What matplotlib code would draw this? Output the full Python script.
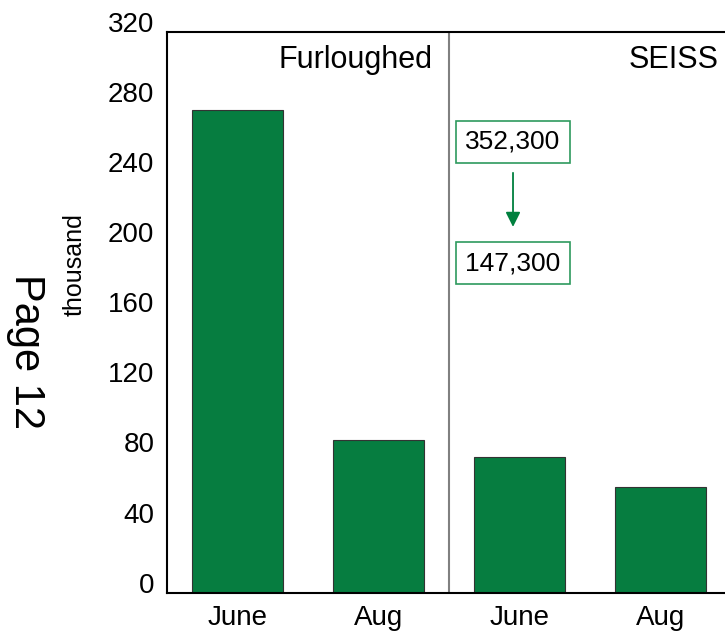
import matplotlib
matplotlib.use("Agg")
import matplotlib.pyplot as plt
from matplotlib import font_manager

# data
months = ["June", "Aug", "June", "Aug"]
values = [275, 87, 77.5, 60.5]
groups = ["Furloughed", "SEISS"]
yticks = [0, 40, 80, 120, 160, 200, 240, 280, 320]
seiss_claims = ["352,300", "147,300"]

names = {f.name for f in font_manager.fontManager.ttflist}
fam = "Liberation Sans Narrow" if "Liberation Sans Narrow" in names else "Liberation Sans"
plt.rcParams['font.family'] = [fam, 'DejaVu Sans']

green = "#067d40"

fig = plt.figure(figsize=(7.25, 6.34), dpi=100)
ax = fig.add_axes([0.2303, 0.0651, 0.7780, 0.8852])

x = range(len(values))
ax.bar(x, values, width=0.645, color=green, edgecolor="#333333", linewidth=0.8)

ax.set_xlim(-0.5, 3.5)
ax.set_ylim(0, 320)
ax.set_yticks(yticks)
ax.set_yticklabels([str(t) for t in yticks], va="baseline")
ax.set_xticks(list(x))
ax.set_xticklabels(months)
ax.tick_params(axis="both", length=0, labelsize=20)
ax.tick_params(axis="y", pad=9)
ax.tick_params(axis="x", pad=9)

for s in ["left", "top", "bottom"]:
    ax.spines[s].set_linewidth(1.5)
    ax.spines[s].set_color("black")
ax.spines["right"].set_visible(False)

# divider between groups
ax.axvline(1.5, color="#808080", linewidth=1.5)

# group titles
ax.text(1.38, 304, groups[0], ha="right", va="center", fontsize=22)
ax.text(3.415, 304, groups[1], ha="right", va="center", fontsize=22)

# SEISS claims boxes
box = dict(boxstyle="square,pad=0.35", facecolor="white", edgecolor="#2e9a5e", linewidth=1.2)
ax.text(1.954, 257, seiss_claims[0], ha="center", va="center", fontsize=19, bbox=box)
ax.text(1.954, 188, seiss_claims[1], ha="center", va="center", fontsize=19, bbox=box)
ax.annotate("", xy=(1.954, 207), xytext=(1.954, 241),
            arrowprops=dict(arrowstyle="-|>", color="#00803e", lw=1.3, mutation_scale=22))

ax.set_ylabel("thousand", fontsize=18)
ax.yaxis.set_label_coords(-0.142, 0.584)
fig.text(0.036, 0.445, "Page 12", rotation=270, ha="center", va="center", fontsize=30)

fig.savefig("out.png", dpi=100)
